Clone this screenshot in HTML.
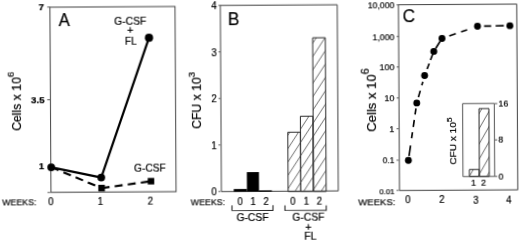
<!DOCTYPE html>
<html><head><meta charset="utf-8">
<style>
html,body{margin:0;padding:0;background:#fff;}
svg{display:block;font-family:"Liberation Sans",sans-serif;fill:#000;}
text{stroke:#000;stroke-width:0.2;}
.ax{stroke:#383838;stroke-width:0.95;fill:none;}
.tk{stroke:#444;stroke-width:0.9;fill:none;}
.br{stroke:#222;stroke-width:1.1;fill:none;}
.ln{stroke:#000;stroke-width:2.2;fill:none;stroke-linejoin:round;}
.ds{stroke:#000;stroke-width:2.1;fill:none;stroke-dasharray:8 5.2;}
.dc{stroke:#000;stroke-width:1.65;fill:none;}
.hb{stroke:#2a2a2a;stroke-width:1;}
</style></head><body>
<svg width="520" height="242" viewBox="0 0 520 242">
<defs>
<filter id="bl" x="0" y="0" width="520" height="242" filterUnits="userSpaceOnUse"><feGaussianBlur stdDeviation="0.3"/></filter>
<pattern id="h" width="8.74" height="20" patternUnits="userSpaceOnUse" patternTransform="translate(0.41,0) skewX(-33.3)">
<line x1="0.5" y1="0" x2="0.5" y2="20" stroke="#4a4a4a" stroke-width="0.75"/>
</pattern>
<pattern id="h2" width="8.74" height="20" patternUnits="userSpaceOnUse" patternTransform="translate(3,0) skewX(-30)">
<line x1="0.5" y1="0" x2="0.5" y2="20" stroke="#4a4a4a" stroke-width="0.75"/>
</pattern>
</defs>
<rect width="520" height="242" fill="#fff"/>
<g transform="rotate(-0.33 260 121)" filter="url(#bl)">
<rect class="ax" x="50.6" y="6" width="125.1" height="185.15"/>
<line class="tk" x1="47.86" y1="5.88" x2="50.66" y2="5.89"/>
<line class="tk" x1="47.33" y1="98.52" x2="50.13" y2="98.54"/>
<line class="tk" x1="47.19" y1="191.28" x2="49.79" y2="191.29"/>
<text x="44.74" y="9.06" font-size="9.9" text-anchor="end" font-weight="bold">7</text>
<text x="44.8" y="102.46" font-size="9.9" text-anchor="end" font-weight="bold">3.5</text>
<text x="44.03" y="167.56" font-size="9.9" text-anchor="end" font-weight="bold">1</text>
<text x="59.15" y="24.94" font-size="18" textLength="11.2" lengthAdjust="spacingAndGlyphs">A</text>
<text transform="translate(20.75,129.62) rotate(-90)" font-size="12" textLength="59.3" lengthAdjust="spacingAndGlyphs">Cells x 10<tspan dy="-6.3" font-size="9.6">6</tspan></text>
<text x="1.82" y="204.01" font-size="9.6" textLength="34.2" lengthAdjust="spacingAndGlyphs">WEEKS:</text>
<text x="0" y="0" font-size="10.4" text-anchor="middle" transform="translate(50.52,204.09) scale(0.93,1)">0</text>
<text x="0" y="0" font-size="10.4" text-anchor="middle" transform="translate(100.02,204.38) scale(0.93,1)">1</text>
<text x="0" y="0" font-size="10.4" text-anchor="middle" transform="translate(149.92,204.17) scale(0.93,1)">2</text>
<polyline class="ln" points="50.99,166.05 100.93,176.58 149.48,37.16"/>
<polyline class="ds" points="50.99,166.05 101.22,187.19" stroke-dasharray="0 0 9.5 5.5 8.1 5.1 8.4 5 7.9 300"/>
<polyline class="ds" points="101.22,187.19 150.66,180.57" stroke-dasharray="0 4.5 7.8 5 7.6 5 7.6 5.1 6.9 300"/>
<circle cx="50.99" cy="166.05" r="3.9"/>
<circle cx="100.93" cy="176.58" r="3.9"/>
<circle cx="149.48" cy="37.16" r="4.1"/>
<rect x="97.92" y="183.89" width="6.6" height="6.6"/>
<rect x="147.41" y="177.32" width="6.5" height="6.5"/>
<text x="130.86" y="24.05" font-size="10.3" text-anchor="middle">G-CSF</text>
<text x="130.8" y="33.45" font-size="11" text-anchor="middle">+</text>
<text x="131.24" y="43.66" font-size="10.3" text-anchor="middle">FL</text>
<text x="149.71" y="171.37" font-size="10.2" text-anchor="middle">G-CSF</text>
<rect class="ax" x="221" y="5.2" width="116.9" height="186.16"/>
<line class="tk" x1="219.17" y1="5.16" x2="221.17" y2="5.17"/>
<text x="0" y="0" font-size="10.4" text-anchor="end" transform="translate(217.44,9.25) scale(0.93,1)">4</text>
<line class="tk" x1="218.9" y1="51.66" x2="220.9" y2="51.67"/>
<text x="0" y="0" font-size="10.4" text-anchor="end" transform="translate(217.18,55.75) scale(0.93,1)">3</text>
<line class="tk" x1="218.63" y1="98.26" x2="220.63" y2="98.27"/>
<text x="0" y="0" font-size="10.4" text-anchor="end" transform="translate(216.91,102.35) scale(0.93,1)">2</text>
<line class="tk" x1="218.36" y1="144.76" x2="220.36" y2="144.77"/>
<text x="0" y="0" font-size="10.4" text-anchor="end" transform="translate(216.64,148.85) scale(0.93,1)">1</text>
<line class="tk" x1="218.09" y1="191.26" x2="220.09" y2="191.27"/>
<text x="0" y="0" font-size="10.4" text-anchor="end" transform="translate(216.37,195.35) scale(0.93,1)">0</text>
<text x="228.55" y="24.82" font-size="17.6" textLength="11.5" lengthAdjust="spacingAndGlyphs">B</text>
<text transform="translate(201.21,128.41) rotate(-90)" font-size="12" textLength="56.8" lengthAdjust="spacingAndGlyphs">CFU x 10<tspan dy="-6.3" font-size="9.6">3</tspan></text>
<rect x="233.35" y="188.89" width="13.15" height="2.6" fill="#000"/>
<rect x="246.55" y="172.06" width="12.1" height="19.5" fill="#000"/>
<rect x="258.6" y="190.43" width="12.9" height="1.2" fill="#000"/>
<g class="hb" fill="url(#h)">
<rect x="287.76" y="132.4" width="12.6" height="59.3"/>
<rect x="300.41" y="116.52" width="12.5" height="75.25"/>
<rect x="313.14" y="38.09" width="12.65" height="153.75"/>
</g>
<text x="190.32" y="204.7" font-size="9.6" textLength="34.4" lengthAdjust="spacingAndGlyphs">WEEKS:</text>
<text x="0" y="0" font-size="10.3" text-anchor="middle" transform="translate(239.77,204.58) scale(0.93,1)">0</text>
<text x="0" y="0" font-size="10.3" text-anchor="middle" transform="translate(252.72,204.66) scale(0.93,1)">1</text>
<text x="0" y="0" font-size="10.3" text-anchor="middle" transform="translate(265.77,204.73) scale(0.93,1)">2</text>
<text x="0" y="0" font-size="10.3" text-anchor="middle" transform="translate(292.52,204.89) scale(0.93,1)">0</text>
<text x="0" y="0" font-size="10.3" text-anchor="middle" transform="translate(305.92,204.97) scale(0.93,1)">1</text>
<text x="0" y="0" font-size="10.3" text-anchor="middle" transform="translate(319.02,205.04) scale(0.93,1)">2</text>
<path class="br" d="M231.51 205.14 L231.49 210.24 L272.48 210.47 L272.51 205.37"/>
<path class="br" d="M284.51 205.44 L284.48 210.54 L325.73 210.78 L325.76 205.68"/>
<text x="251.92" y="221.16" font-size="10.3" text-anchor="middle">G-CSF</text>
<text x="307.83" y="220.88" font-size="10.3" text-anchor="middle">G-CSF</text>
<text x="307.77" y="230.88" font-size="11" text-anchor="middle">+</text>
<text x="309.71" y="240.39" font-size="10.5" text-anchor="middle">FL</text>
<rect class="ax" x="399.1" y="5.56" width="118.3" height="185.74"/>
<line class="tk" x1="397.27" y1="5.69" x2="399.47" y2="5.7"/>
<text x="395.05" y="9.18" font-size="8.7" text-anchor="end">10,000</text>
<line class="tk" x1="397.08" y1="37.29" x2="399.28" y2="37.3"/>
<text x="394.86" y="40.78" font-size="8.7" text-anchor="end">1,000</text>
<line class="tk" x1="396.91" y1="67.79" x2="399.11" y2="67.8"/>
<text x="394.69" y="71.27" font-size="9" text-anchor="end">100</text>
<line class="tk" x1="396.73" y1="98.79" x2="398.93" y2="98.8"/>
<text x="394.51" y="102.27" font-size="9" text-anchor="end">10</text>
<line class="tk" x1="396.55" y1="129.54" x2="398.75" y2="129.55"/>
<text x="394.33" y="133.02" font-size="9" text-anchor="end">1</text>
<line class="tk" x1="396.37" y1="160.99" x2="398.57" y2="161"/>
<text x="394.15" y="164.47" font-size="8.4" text-anchor="end">0.1</text>
<line class="tk" x1="396.2" y1="191.19" x2="398.4" y2="191.2"/>
<text x="394.07" y="195.27" font-size="7.8" text-anchor="end">0.01</text>
<text x="403.37" y="23.12" font-size="18.5" textLength="12.4" lengthAdjust="spacingAndGlyphs">C</text>
<text transform="translate(376.04,132.47) rotate(-90)" font-size="12.3" textLength="63.4" lengthAdjust="spacingAndGlyphs">Cells x 10<tspan dy="-7.2" font-size="10.2">6</tspan></text>
<text x="357.71" y="206.06" font-size="9.9" textLength="37.3" lengthAdjust="spacingAndGlyphs">WEEKS:</text>
<text x="0" y="0" font-size="10.4" text-anchor="middle" transform="translate(407.52,204.15) scale(0.93,1)">0</text>
<text x="0" y="0" font-size="10.4" text-anchor="middle" transform="translate(441.32,204.35) scale(0.93,1)">2</text>
<text x="0" y="0" font-size="10.4" text-anchor="middle" transform="translate(475.52,204.54) scale(0.93,1)">3</text>
<text x="0" y="0" font-size="10.4" text-anchor="middle" transform="translate(508.42,204.73) scale(0.93,1)">4</text>
<polyline class="dc" points="408.17,161.25 416.85,103.9" stroke-dasharray="0 4.5 10.5 7.3 6.1 5.4 7 5.5 6.1 200"/>
<polyline class="dc" points="416.85,103.9 424.86,76.45" stroke-dasharray="0 6 6.8 5.6 3.6 200"/>
<polyline class="dc" points="424.86,76.45 434.2,52.4" stroke-dasharray="0 7 5.9 3.6 6.5 200"/>
<polyline class="dc" points="434.2,52.4 442.47,39.45" stroke-dasharray="0 3.5 8.5 200"/>
<polyline class="dc" points="442.47,39.45 478.04,27.45" stroke-dasharray="0 7.7 6.9 5.6 6.4 200"/>
<polyline class="dc" points="478.04,27.45 510.44,27.14" stroke-dasharray="0 6.6 7.1 4.4 8.2 200"/>
<circle cx="408.17" cy="161.25" r="3.45"/>
<circle cx="416.85" cy="103.9" r="3.45"/>
<circle cx="424.86" cy="76.45" r="3.45"/>
<circle cx="434.2" cy="52.4" r="3.45"/>
<circle cx="442.47" cy="39.45" r="3.45"/>
<circle cx="478.04" cy="27.45" r="3.45"/>
<circle cx="510.44" cy="27.14" r="3.45"/>
<rect class="tk" x="462.7" y="104.77" width="31.68" height="72.98"/>
<g class="hb" fill="url(#h2)">
<rect x="469.1" y="170.73" width="9.8" height="6.9"/>
<rect x="479.07" y="109.89" width="9.9" height="67.8"/>
</g>
<line class="tk" x1="494.8" y1="104.95" x2="497.4" y2="104.97"/>
<text x="498.58" y="107.57" font-size="8.8" stroke-width="0.15">16</text>
<line class="tk" x1="494.59" y1="141.25" x2="497.19" y2="141.27"/>
<text x="498.37" y="144.17" font-size="8.8" stroke-width="0.15">8</text>
<line class="tk" x1="494.38" y1="177.75" x2="496.98" y2="177.77"/>
<text x="498.16" y="180.67" font-size="8.8" stroke-width="0.15">0</text>
<text x="473.12" y="187.33" font-size="8.8" text-anchor="middle" stroke-width="0.15">1</text>
<text x="483.22" y="187.39" font-size="8.8" text-anchor="middle" stroke-width="0.15">2</text>
<text transform="translate(456.45,165.73) rotate(-90)" font-size="8.7" textLength="47.3" lengthAdjust="spacingAndGlyphs" stroke-width="0.12">CFU x 10<tspan dy="-4.5" font-size="7.4">5</tspan></text>
</g>
</svg>
</body></html>
